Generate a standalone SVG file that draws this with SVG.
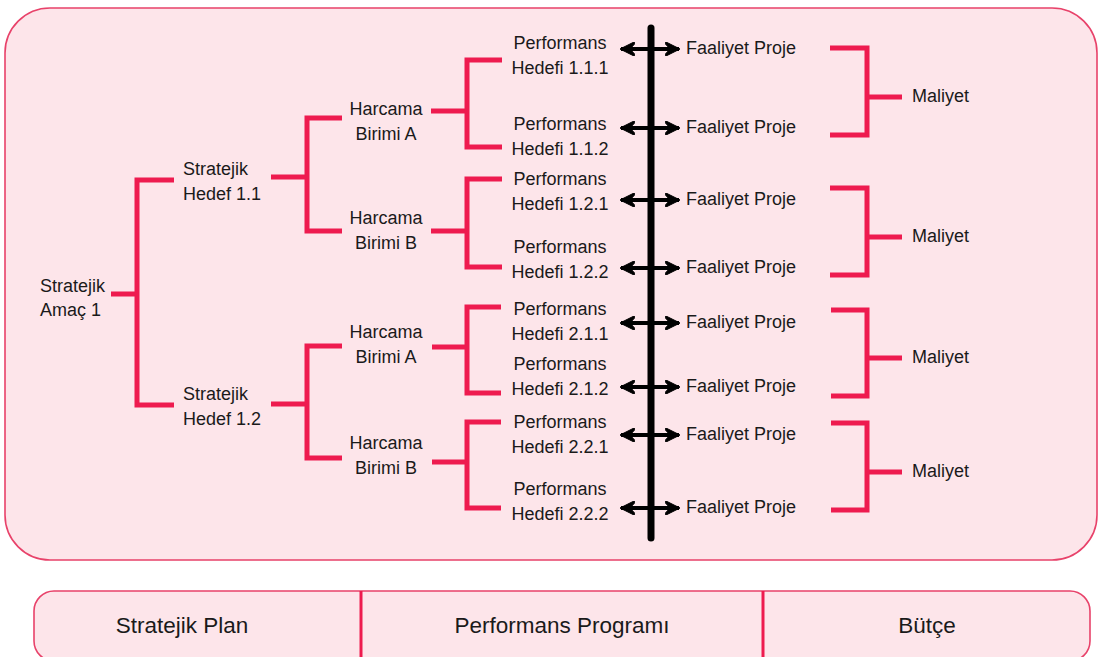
<svg xmlns="http://www.w3.org/2000/svg" width="1098" height="657" viewBox="0 0 1098 657">
<style>
text{font-family:"Liberation Sans",Arial,sans-serif;font-size:18px;fill:#1a1a1a}
.c{text-anchor:middle}
.b{font-size:22.5px}
.br{fill:none;stroke:#ee1b4f;stroke-width:5;stroke-linejoin:miter;stroke-linecap:butt}
.ar{stroke:#000;stroke-width:4;marker-start:url(#ah);marker-end:url(#ah)}
.box{fill:#fde5ea;stroke:#e8426a;stroke-width:1.6}
</style>
<defs>
<marker id="ah" viewBox="0 0 15 14" refX="14" refY="7" markerWidth="15" markerHeight="14" markerUnits="userSpaceOnUse" orient="auto-start-reverse">
<path d="M15,7 L1,0 L0,1.5 L5,7 L0,12.5 L1,14 z" fill="#000" stroke="#000" stroke-width="1" stroke-linejoin="round"/>
</marker>
</defs>
<rect id="main-panel" class="box" x="5" y="8" width="1092" height="552" rx="45"/>
<g id="connectors">
<path class="br" d="M111,294 H137 M174,180 H137 V405 H174"/>
<path class="br" d="M271,177 H307 M342,118 H307 V231 H342"/>
<path class="br" d="M271,404 H307 M342,346 H307 V458 H342"/>
<path class="br" d="M431,111 H467 M502,60 H467 V147 H502"/>
<path class="br" d="M431,231 H467 M502,179 H467 V267 H502"/>
<path class="br" d="M432,347 H467 M501,307 H467 V393 H501"/>
<path class="br" d="M432,462 H467 M501,422 H467 V508 H501"/>
<path class="br" d="M830,48 H867 V135 H830 M867,97 H902"/>
<path class="br" d="M830,188 H867 V275 H830 M867,237 H902"/>
<path class="br" d="M831,310 H867 V396 H831 M867,358 H902"/>
<path class="br" d="M831,423 H867 V510 H831 M867,472 H902"/>
<line x1="651" y1="28" x2="651" y2="538" stroke="#000" stroke-width="7" stroke-linecap="round"/>
<line class="ar" x1="621" y1="49" x2="679" y2="49"/>
<line class="ar" x1="621" y1="128" x2="679" y2="128"/>
<line class="ar" x1="621" y1="200" x2="679" y2="200"/>
<line class="ar" x1="621" y1="268" x2="679" y2="268"/>
<line class="ar" x1="621" y1="323" x2="679" y2="323"/>
<line class="ar" x1="621" y1="387" x2="679" y2="387"/>
<line class="ar" x1="621" y1="435" x2="679" y2="435"/>
<line class="ar" x1="621" y1="508" x2="679" y2="508"/>
</g>
<g id="amac1"><text x="40" y="292">Stratejik</text><text x="40" y="316">Amaç 1</text></g>
<g id="hedef11"><text x="183" y="175">Stratejik</text><text x="183" y="200">Hedef 1.1</text></g>
<g id="hedef12"><text x="183" y="400">Stratejik</text><text x="183" y="425">Hedef 1.2</text></g>
<g id="birimA1"><text class="c" x="386" y="115">Harcama</text><text class="c" x="386" y="140">Birimi A</text></g>
<g id="birimB1"><text class="c" x="386" y="224">Harcama</text><text class="c" x="386" y="249">Birimi B</text></g>
<g id="birimA2"><text class="c" x="386" y="338">Harcama</text><text class="c" x="386" y="363">Birimi A</text></g>
<g id="birimB2"><text class="c" x="386" y="449">Harcama</text><text class="c" x="386" y="474">Birimi B</text></g>
<g id="ph111"><text class="c" x="560" y="49">Performans</text><text class="c" x="560" y="74">Hedefi 1.1.1</text></g>
<g id="ph112"><text class="c" x="560" y="130">Performans</text><text class="c" x="560" y="155">Hedefi 1.1.2</text></g>
<g id="ph121"><text class="c" x="560" y="185">Performans</text><text class="c" x="560" y="210">Hedefi 1.2.1</text></g>
<g id="ph122"><text class="c" x="560" y="253">Performans</text><text class="c" x="560" y="278">Hedefi 1.2.2</text></g>
<g id="ph211"><text class="c" x="560" y="315">Performans</text><text class="c" x="560" y="340">Hedefi 2.1.1</text></g>
<g id="ph212"><text class="c" x="560" y="370">Performans</text><text class="c" x="560" y="395">Hedefi 2.1.2</text></g>
<g id="ph221"><text class="c" x="560" y="428">Performans</text><text class="c" x="560" y="453">Hedefi 2.2.1</text></g>
<g id="ph222"><text class="c" x="560" y="495">Performans</text><text class="c" x="560" y="520">Hedefi 2.2.2</text></g>
<g id="fp1"><text x="686" y="54">Faaliyet Proje</text></g>
<g id="fp2"><text x="686" y="133">Faaliyet Proje</text></g>
<g id="fp3"><text x="686" y="205">Faaliyet Proje</text></g>
<g id="fp4"><text x="686" y="273">Faaliyet Proje</text></g>
<g id="fp5"><text x="686" y="328">Faaliyet Proje</text></g>
<g id="fp6"><text x="686" y="392">Faaliyet Proje</text></g>
<g id="fp7"><text x="686" y="440">Faaliyet Proje</text></g>
<g id="fp8"><text x="686" y="513">Faaliyet Proje</text></g>
<g id="maliyet1"><text x="912" y="102">Maliyet</text></g>
<g id="maliyet2"><text x="912" y="242">Maliyet</text></g>
<g id="maliyet3"><text x="912" y="363">Maliyet</text></g>
<g id="maliyet4"><text x="912" y="477">Maliyet</text></g>
<g id="legend">
<rect class="box" x="34" y="591" width="1056" height="70" rx="20"/>
<line x1="361" y1="591" x2="361" y2="657" stroke="#ee1b4f" stroke-width="3"/>
<line x1="763" y1="591" x2="763" y2="657" stroke="#ee1b4f" stroke-width="3"/>
<text class="c b" x="182" y="633">Stratejik Plan</text>
<text class="c b" x="562" y="633">Performans Programı</text>
<text class="c b" x="927" y="633">Bütçe</text>
</g>
</svg>
